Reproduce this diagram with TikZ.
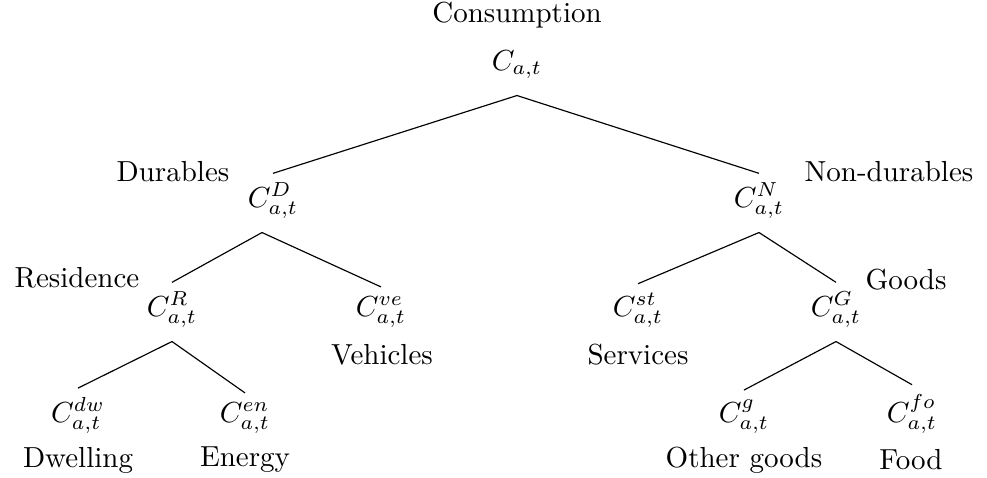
\documentclass[tikz,border=0pt]{standalone}
\usepackage{tikz}
\usetikzlibrary{trees, positioning, calc}
\tikzstyle{cons} = [inner sep=3pt, text depth=5.6pt, anchor=base, text centered]
\tikzstyle{lab} = [inner sep=0pt, text centered]
\tikzstyle{branch} = [-, black, line width=0.4pt]

\begin{document}
\begin{tikzpicture}[x=0.3448pt, y=-0.3448pt]
\useasboundingbox (0,0) rectangle (987,477);

% consumption nodes
\node(vTot)[cons] at (517,70) {$C_{a,t}$};
\node(vD)[cons] at (273,207) {$C^{D}_{a,t}$};
\node(vN)[cons] at (759,207) {$C^{N}_{a,t}$};
\node(vR)[cons] at (172,316) {$C^{R}_{a,t}$};
\node(vVe)[cons] at (381,316) {$C^{ve}_{a,t}$};
\node(vSt)[cons] at (638,316) {$C^{st}_{a,t}$};
\node(vG)[cons] at (836,316) {$C^{G}_{a,t}$};
\node(vDw)[cons] at (78,422) {$C^{dw}_{a,t}$};
\node(vEn)[cons] at (245,422) {$C^{en}_{a,t}$};
\node(vOg)[cons] at (744,422) {$C^{g}_{a,t}$};
\node(vFo)[cons] at (912,422) {$C^{fo}_{a,t}$};

% labels
\node(lTot)[lab] at (517,15) {Consumption};
\node(lD)[lab] at (173,172) {Durables};
\node(lN)[lab] at (889,172) {Non-durables};
\node(lR)[lab] at (77,278) {Residence};
\node(lG)[lab] at (906,280) {Goods};
\node(lVe)[lab] at (382,355) {Vehicles};
\node(lSt)[lab] at (638,355) {Services};
\node(lDw)[lab] at (78,460) {Dwelling};
\node(lEn)[lab] at (245,460) {Energy};
\node(lOg)[lab] at (744,460) {Other goods};
\node(lFo)[lab] at (911,460) {Food};

\draw [branch] (vTot.south) -- (vD.north);
\draw [branch] (vTot.south) -- (vN.north);
\draw [branch] ($(vD.south)+(-11,0)$) -- (vR.north);
\draw [branch] ($(vD.south)+(-11,0)$) -- (vVe.north);
\draw [branch] (vN.south) -- (vSt.north);
\draw [branch] (vN.south) -- (vG.north);
\draw [branch] (vR.south) -- (vDw.north);
\draw [branch] (vR.south) -- (vEn.north);
\draw [branch] (vG.south) -- (vOg.north);
\draw [branch] (vG.south) -- (vFo.north);
\end{tikzpicture}
\end{document}
